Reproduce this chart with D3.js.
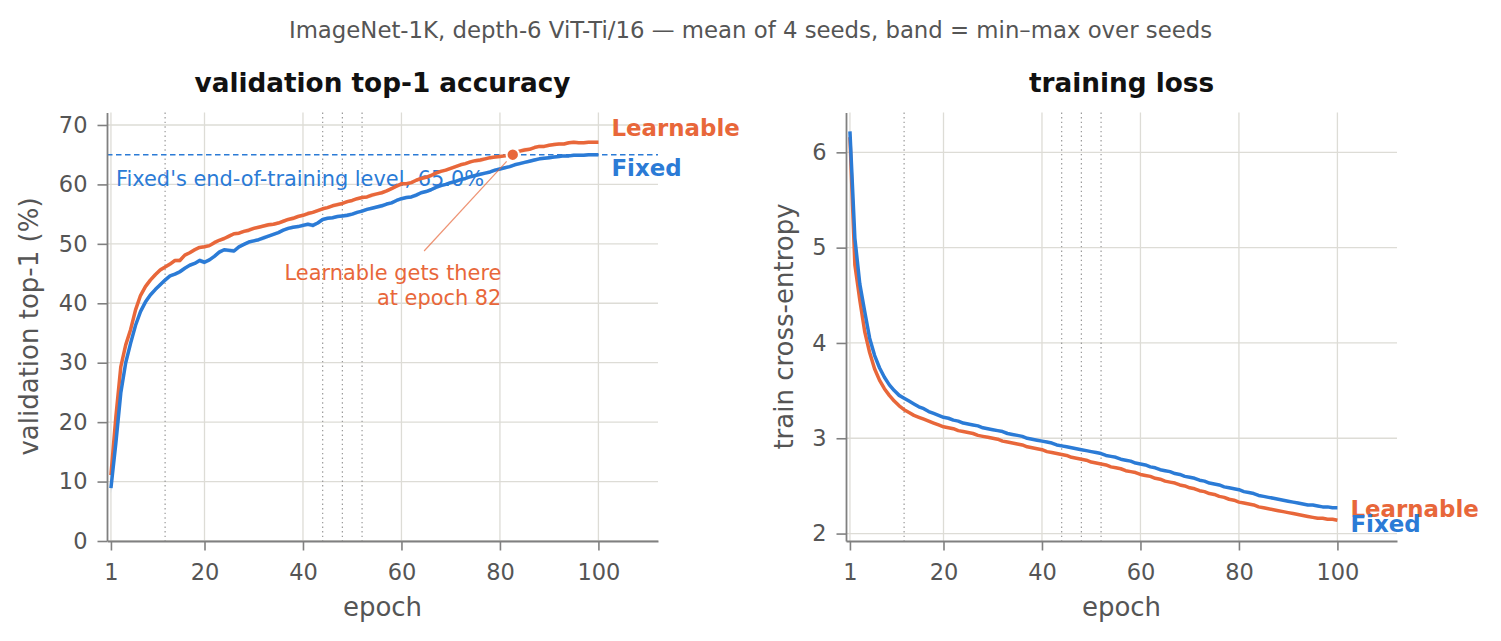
<!DOCTYPE html>
<html><head><meta charset="utf-8">
<script src="https://cdn.jsdelivr.net/npm/d3@7"></script>
<style>
body{margin:0;background:#fff}
svg{display:block}
text{font-family:"DejaVu Sans",sans-serif}
</style>
</head><body>
<svg id="c" width="1501" height="641"></svg>
<script>
// ---------------- data ----------------
const epochs = d3.range(1, 101);
const seriesNames = ["Learnable", "Fixed"];
const markedEpochs = [12, 44, 48, 52];
const xTicks = [1, 20, 40, 60, 80, 100];
const accTicks = [0, 10, 20, 30, 40, 50, 60, 70];
const lossTicks = [2, 3, 4, 5, 6];

const accLearnable = [
 11.1,20.9,29.3,33.0,35.6,38.9,41.3,42.8,43.9,44.8,
 45.6,46.1,46.6,47.2,47.2,48.1,48.5,49.0,49.4,49.5,
 49.7,50.2,50.6,50.9,51.3,51.7,51.8,52.1,52.3,52.6,
 52.8,53.0,53.2,53.3,53.5,53.8,54.1,54.3,54.6,54.8,
 55.1,55.3,55.6,55.9,56.1,56.4,56.6,56.8,57.1,57.3,
 57.6,57.8,57.9,58.2,58.4,58.6,58.9,59.3,59.7,60.1,
 60.1,60.3,60.7,61.0,61.2,61.5,61.9,62.2,62.4,62.7,
 63.0,63.3,63.5,63.8,64.0,64.1,64.3,64.5,64.6,64.7,
 64.8,64.9,65.2,65.6,65.8,65.9,66.2,66.4,66.4,66.6,
 66.7,66.8,66.8,67.0,67.1,67.0,67.0,67.1,67.1,67.1];
const accFixed = [
 8.9,16.5,24.9,30.0,33.3,36.3,38.6,40.2,41.4,42.3,
 43.1,43.9,44.6,44.9,45.3,45.9,46.4,46.7,47.2,46.9,
 47.3,47.9,48.6,49.0,48.9,48.8,49.5,49.9,50.3,50.5,
 50.7,51.0,51.3,51.6,51.9,52.3,52.6,52.8,52.9,53.1,
 53.3,53.1,53.5,54.1,54.3,54.4,54.6,54.7,54.8,55.0,
 55.3,55.5,55.8,56.0,56.2,56.4,56.7,56.9,57.3,57.6,
 57.8,57.9,58.2,58.6,58.8,59.1,59.5,59.8,60.0,60.3,
 60.5,60.8,61.0,61.3,61.5,61.7,61.9,62.1,62.4,62.6,
 62.8,63.0,63.3,63.5,63.7,63.9,64.1,64.3,64.4,64.5,
 64.6,64.7,64.8,64.8,64.9,64.9,64.9,65.0,65.0,65.0];
// half-width of the min–max band over seeds
const accSpreadLearnable = [
 0.8,0.9,0.8,0.7,0.6,0.6,0.5,0.5,0.4,0.4,
 0.4,0.3,0.4,0.3,0.4,0.3,0.3,0.4,0.3,0.3,
 0.3,0.4,0.3,0.3,0.4,0.3,0.3,0.3,0.4,0.3,
 0.3,0.3,0.4,0.3,0.3,0.3,0.3,0.4,0.3,0.3,
 0.4,0.3,0.3,0.3,0.3,0.3,0.4,0.3,0.3,0.3,
 0.3,0.3,0.3,0.4,0.3,0.3,0.3,0.3,0.3,0.4,
 0.3,0.3,0.3,0.3,0.3,0.3,0.4,0.3,0.3,0.3,
 0.3,0.3,0.3,0.3,0.3,0.4,0.3,0.3,0.3,0.3,
 0.3,0.3,0.3,0.3,0.4,0.3,0.3,0.3,0.3,0.3,
 0.3,0.3,0.3,0.3,0.3,0.3,0.3,0.3,0.3,0.3];
const accSpreadFixed = [
 0.9,0.9,0.8,0.7,0.7,0.6,0.5,0.5,0.4,0.4,
 0.4,0.4,0.3,0.3,0.4,0.3,0.3,0.3,0.4,0.4,
 0.3,0.3,0.4,0.3,0.4,0.4,0.3,0.3,0.3,0.3,
 0.3,0.4,0.3,0.3,0.3,0.3,0.3,0.3,0.3,0.4,
 0.3,0.4,0.3,0.3,0.3,0.3,0.3,0.3,0.4,0.3,
 0.3,0.3,0.3,0.3,0.3,0.4,0.3,0.3,0.3,0.3,
 0.3,0.3,0.4,0.3,0.3,0.3,0.3,0.3,0.3,0.3,
 0.3,0.3,0.3,0.3,0.3,0.3,0.3,0.3,0.3,0.3,
 0.3,0.3,0.3,0.3,0.3,0.3,0.3,0.3,0.3,0.3,
 0.3,0.3,0.3,0.3,0.3,0.3,0.3,0.3,0.3,0.3];

const lossLearnable = [
 6.16,4.82,4.45,4.12,3.90,3.73,3.61,3.52,3.45,3.39,
 3.34,3.30,3.27,3.24,3.22,3.20,3.18,3.16,3.14,3.12,
 3.11,3.10,3.08,3.07,3.06,3.05,3.03,3.02,3.01,3.00,
 2.99,2.97,2.96,2.95,2.94,2.93,2.91,2.90,2.89,2.88,
 2.86,2.85,2.84,2.83,2.82,2.80,2.79,2.78,2.77,2.75,
 2.74,2.73,2.72,2.70,2.69,2.68,2.66,2.65,2.64,2.62,
 2.61,2.60,2.58,2.57,2.55,2.54,2.53,2.51,2.50,2.48,
 2.47,2.45,2.44,2.42,2.41,2.39,2.38,2.36,2.35,2.33,
 2.32,2.31,2.30,2.28,2.27,2.26,2.25,2.24,2.23,2.22,
 2.21,2.20,2.19,2.18,2.17,2.16,2.16,2.15,2.15,2.14];
const lossFixed = [
 6.22,5.10,4.62,4.33,4.05,3.87,3.74,3.64,3.56,3.50,
 3.45,3.42,3.39,3.36,3.33,3.31,3.28,3.26,3.24,3.22,
 3.21,3.19,3.18,3.16,3.15,3.14,3.13,3.11,3.10,3.09,
 3.08,3.07,3.05,3.04,3.03,3.02,3.00,2.99,2.98,2.97,
 2.96,2.95,2.93,2.92,2.91,2.90,2.89,2.88,2.87,2.86,
 2.85,2.84,2.82,2.81,2.80,2.78,2.77,2.76,2.74,2.73,
 2.72,2.70,2.69,2.67,2.66,2.65,2.63,2.62,2.60,2.59,
 2.58,2.56,2.55,2.53,2.52,2.51,2.49,2.48,2.47,2.46,
 2.44,2.43,2.42,2.40,2.39,2.38,2.37,2.36,2.35,2.34,
 2.33,2.32,2.31,2.30,2.30,2.29,2.28,2.28,2.27,2.27];

const fixedLevel = 65.0;
const crossEpoch = 82.6;   // where the dot sits
const crossLabelEpoch = 82;

// ---------------- style ----------------
const C = { Learnable: "#e8673a", Fixed: "#2b7bd6" };
const GRID = "#dddcd6", SPINE = "#808080", TXT = "#555555";

const svg = d3.select("#c");

svg.append("text").attr("x", 750.5).attr("y", 37.5).attr("text-anchor", "middle")
  .attr("font-size", 22.8).attr("fill", TXT)
  .text("ImageNet-1K, depth-6 ViT-Ti/16 — mean of 4 seeds, band = min–max over seeds");

function panel(opt) {
  const x = d3.scaleLinear().domain([0.2, 112.1]).range([opt.left, opt.left + 551]);
  const y = d3.scaleLinear().domain(opt.ydom).range([541, 112.5]);
  const g = svg.append("g");

  // grid
  g.append("g").selectAll("line").data(opt.yTicks).join("line")
    .attr("x1", x.range()[0]).attr("x2", x.range()[1])
    .attr("y1", d => y(d)).attr("y2", d => y(d))
    .attr("stroke", GRID).attr("stroke-width", 1.3);
  g.append("g").selectAll("line").data(xTicks).join("line")
    .attr("x1", d => x(d)).attr("x2", d => x(d))
    .attr("y1", 112.5).attr("y2", 541)
    .attr("stroke", GRID).attr("stroke-width", 1.3);
  // marked epochs
  g.append("g").selectAll("line").data(markedEpochs).join("line")
    .attr("x1", d => x(d)).attr("x2", d => x(d))
    .attr("y1", 112.5).attr("y2", 541)
    .attr("stroke", "#999").attr("stroke-width", 1.2).attr("stroke-dasharray", "1.4,3.2");

  if (opt.pre) opt.pre(g, x, y);

  // bands + lines
  seriesNames.forEach(name => {
    const vals = opt.data[name];
    const sp = opt.spread ? opt.spread[name] : null;
    if (sp) {
      g.append("path").datum(epochs)
        .attr("d", d3.area().x(e => x(e)).y0((e, i) => y(vals[i] - sp[i])).y1((e, i) => y(vals[i] + sp[i])))
        .attr("fill", C[name]).attr("opacity", 0.2);
    }
    g.append("path").datum(epochs)
      .attr("d", d3.line().x(e => x(e)).y((e, i) => y(vals[i])))
      .attr("fill", "none").attr("stroke", C[name]).attr("stroke-width", 3.5)
      .attr("stroke-linejoin", "round");
  });

  // end labels
  seriesNames.forEach(name => {
    const vals = opt.data[name];
    g.append("text").attr("x", x(100) + 13).attr("y", y(vals[99]) + opt.labelDy[name])
      .attr("font-size", 22.9).attr("font-weight", "bold").attr("fill", C[name]).text(name);
  });

  if (opt.post) opt.post(g, x, y);

  // axes
  const ax = g.append("g").attr("transform", "translate(0,541)")
    .call(d3.axisBottom(x).tickValues(xTicks).tickFormat(d3.format("d"))
      .tickSize(9.5).tickPadding(13.5).tickSizeOuter(0));
  const ay = g.append("g").attr("transform", `translate(${opt.left},0)`)
    .call(d3.axisLeft(y).tickValues(opt.yTicks).tickFormat(d3.format("d"))
      .tickSize(9.5).tickPadding(10).tickSizeOuter(0));
  [ax, ay].forEach(a => {
    a.select(".domain").attr("stroke", SPINE).attr("stroke-width", 1.8);
    a.selectAll(".tick line").attr("stroke", SPINE).attr("stroke-width", 1.6);
    a.selectAll(".tick text").attr("fill", TXT).attr("font-size", 22.5)
      .attr("font-family", "DejaVu Sans");
  });

  // titles
  g.append("text").attr("x", opt.left + 275.5).attr("y", 92).attr("text-anchor", "middle")
    .attr("font-size", 26.3).attr("font-weight", "bold").attr("fill", "#111").text(opt.title);
  g.append("text").attr("x", opt.left + 275.5).attr("y", 616).attr("text-anchor", "middle")
    .attr("font-size", 26).attr("fill", TXT).text("epoch");
  g.append("text").attr("transform", `translate(${opt.left - opt.ylabOff},326.5) rotate(-90)`)
    .attr("text-anchor", "middle").attr("font-size", 26).attr("fill", TXT).text(opt.ylabel);
}

panel({
  left: 107, ydom: [0, 72.1], yTicks: accTicks,
  data: { Learnable: accLearnable, Fixed: accFixed },
  spread: { Learnable: accSpreadLearnable, Fixed: accSpreadFixed },
  labelDy: { Learnable: -6.6, Fixed: 21.8 },
  title: "validation top-1 accuracy", ylabel: "validation top-1 (%)", ylabOff: 69,
  pre: (g, x, y) => {
    g.append("line").attr("x1", x.range()[0]).attr("x2", x.range()[1])
      .attr("y1", y(fixedLevel)).attr("y2", y(fixedLevel))
      .attr("stroke", C.Fixed).attr("stroke-width", 1.5).attr("stroke-dasharray", "5.5,3.5");
    g.append("text").attr("x", x.range()[0] + 9).attr("y", y(fixedLevel) + 31.5)
      .attr("font-size", 20.9).attr("fill", C.Fixed)
      .text(`Fixed's end-of-training level, ${fixedLevel.toFixed(1)}%`);
  },
  post: (g, x, y) => {
    const px = x(crossEpoch), py = y(fixedLevel);
    const sx = x(64.6), sy = y(48.8);
    const dx = px - sx, dy = py - sy, L = Math.hypot(dx, dy), shrink = 9;
    g.append("line").attr("x1", sx).attr("y1", sy)
      .attr("x2", px - dx / L * shrink).attr("y2", py - dy / L * shrink)
      .attr("stroke", C.Learnable).attr("stroke-width", 1.2).attr("opacity", 0.7);
    g.append("circle").attr("cx", px).attr("cy", py).attr("r", 6.2)
      .attr("fill", C.Learnable).attr("stroke", "#fff").attr("stroke-width", 2);
    const t = g.append("text").attr("text-anchor", "end").attr("font-size", 20.9).attr("fill", C.Learnable);
    t.append("tspan").attr("x", x(80.3)).attr("y", y(43.9)).text("Learnable gets there");
    t.append("tspan").attr("x", x(80.3)).attr("y", y(43.9) + 24.5).text(`at epoch ${crossLabelEpoch}`);
  }
});

panel({
  left: 846, ydom: [1.922, 6.418], yTicks: lossTicks,
  data: { Learnable: lossLearnable, Fixed: lossFixed },
  spread: null,
  labelDy: { Learnable: -3.5, Fixed: 24.5 },
  title: "training loss", ylabel: "train cross-entropy", ylabOff: 53
});
</script>
</body></html>
